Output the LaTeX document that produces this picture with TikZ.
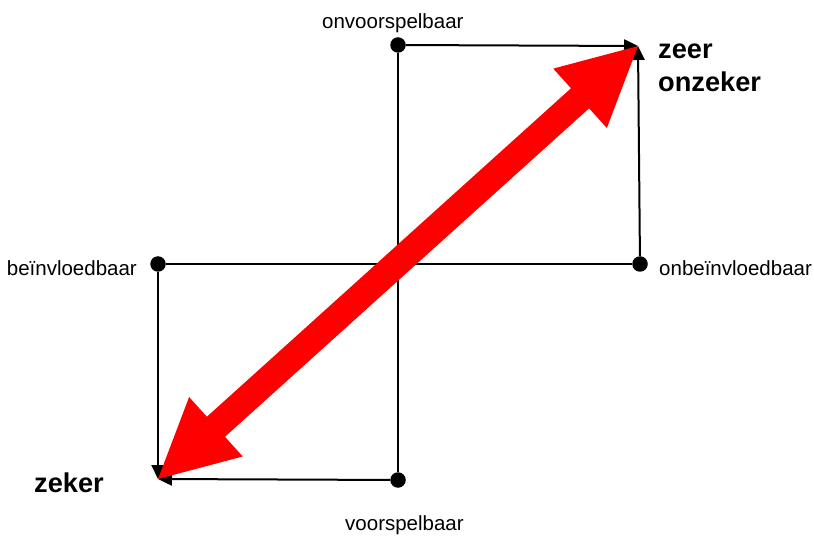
\documentclass[tikz,border=0pt]{standalone}
\usepackage{fontspec}
\setmainfont{Liberation Sans}
\usetikzlibrary{arrows.meta}
\begin{document}
\begin{tikzpicture}[x=1pt,y=1pt,
  dot/.style={circle,fill=black,inner sep=0pt,minimum size=15.5pt},
  conn/.style={draw=black,line width=2pt},
  arr/.style={conn,-{Triangle[length=14pt,width=13pt]}},
  lbl/.style={inner sep=0pt,font=\fontsize{20.5}{24}\selectfont},
  big/.style={inner sep=0pt,font=\fontsize{27.2}{32}\bfseries\selectfont}]
\useasboundingbox (0,0) rectangle (814,-537);
% dots
\node[dot] (top) at (398,-45) {};
\node[dot] (left) at (158,-264) {};
\node[dot] (right) at (640,-264) {};
\node[dot] (bottom) at (398,-480) {};
\coordinate (tr) at (638,-46);
\coordinate (bl) at (158,-479);
% lines
\draw[conn] (top) -- (bottom);
\draw[conn] (left) -- (right);
\draw[arr] (top) -- (tr);
\draw[arr] (right) -- (tr);
\draw[arr] (left) -- (bl);
\draw[arr] (bottom) -- (bl);
% red double arrow
\begin{scope}[shift={(bl)},rotate=42.05]
\fill[red] (0,0) -- (78,40) -- (78,13.5) -- (568.4,13.5) -- (568.4,40) -- (646.4,0)
  -- (568.4,-40) -- (568.4,-13.5) -- (78,-13.5) -- (78,-40) -- cycle;
\end{scope}
% labels
\node[lbl,anchor=base west] (t1) at (322,-29) {onvoorspelbaar};
\node[lbl,anchor=base west] (t2) at (345,-530) {voorspelbaar};
\node[lbl,anchor=base east] (t3) at (137,-276) {beïnvloedbaar};
\node[lbl,anchor=base west] (t4) at (659,-276) {onbeïnvloedbaar};
\node[big,anchor=base west] (t5) at (658,-59) {zeer};
\node[big,anchor=base west] (t6) at (658,-92) {onzeker};
\node[big,anchor=base west] (t7) at (34,-492) {zeker};
\end{tikzpicture}
\end{document}
